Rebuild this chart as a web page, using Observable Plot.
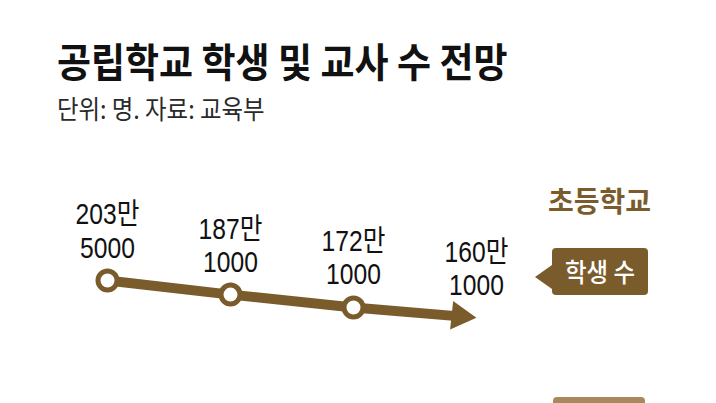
<!DOCTYPE html>
<html><head><meta charset="utf-8">
<script src="https://cdn.jsdelivr.net/npm/d3@7"></script>
<script src="https://cdn.jsdelivr.net/npm/@observablehq/plot@0.6"></script>
<style>
html,body{margin:0;padding:0;background:#fff;}
#wrap{position:relative;width:716px;height:403px;overflow:hidden;background:#fff;font-family:"Noto Sans CJK KR","Noto Sans",sans-serif;}
#head{position:relative;height:140px;}
.abs{position:absolute;white-space:nowrap;line-height:1;}
#title{left:57px;top:40px;font-size:40px;font-weight:700;color:#111;transform:scaleX(0.925);transform-origin:0 0;}
#sub{left:57px;top:95px;font-size:26px;font-weight:400;color:#2a2a2a;transform:scaleX(0.9);transform-origin:0 0;}
#school{left:548px;top:186px;font-size:28px;font-weight:700;color:#7a5c2c;}
.callout{position:absolute;border-radius:4px;}
#c1{left:552px;top:248px;width:96px;height:47px;background:#7a5c2c;}
#c1::before{content:"";position:absolute;left:-17px;top:17px;border-top:12px solid transparent;border-bottom:12px solid transparent;border-right:17px solid #7a5c2c;}
#c1 span{position:absolute;left:0;right:0;top:10px;text-align:center;color:#fff;font-size:26px;font-weight:500;line-height:1;transform:scaleX(0.9);}
#c2{left:553px;top:397px;width:92px;height:50px;background:#a8895a;}
#chart{position:absolute;left:0;top:140px;}
</style></head>
<body>
<div id="wrap">
  <div id="head">
    <div class="abs" id="title">공립학교 학생 및 교사 수 전망</div>
    <div class="abs" id="sub">단위: 명. 자료: 교육부</div>
  </div>
  <div class="abs" id="school">초등학교</div>
  <div class="callout" id="c1"><span>학생 수</span></div>
  <div class="callout" id="c2"></div>
  <div id="chart"></div>
</div>
<script>
// Data: projected public elementary school students (4 projection points)
const steps = [0, 1, 2, 3];
const students = [2035000, 1871000, 1721000, 1601000];

const brown = "#7a5c2c";
const data = steps.map((s, i) => ({step: s, value: students[i],
  label: `${Math.floor(students[i] / 10000)}만\n${students[i] % 10000}`}));
const nodes = data.slice(0, 3);
const last = data.slice(3);

const chart = Plot.plot({
  width: 716,
  height: 263,
  margin: 0,
  x: {domain: [0, 3], range: [107, 476], axis: null},
  y: {domain: [1601000, 2035000], range: [177.3, 140], axis: null},
  marks: [
    Plot.line(data, {x: "step", y: "value", stroke: brown, strokeWidth: 10,
      strokeLinejoin: "round", strokeLinecap: "butt", className: "trend"}),
    Plot.dot(last, {x: "step", y: "value", symbol: "triangle", r: 10.7, rotate: 96,
      fill: brown, stroke: "none", dx: -16.6, dy: -1.7}),
    Plot.dot(nodes, {x: "step", y: "value", r: 9.5, fill: "white", stroke: brown, strokeWidth: 5}),
    Plot.text(data, {x: "step", y: "value", text: "label", lineAnchor: "bottom", dy: -23,
      lineHeight: 1.14, fontSize: 29, fill: "#111",
      fontFamily: "'Liberation Sans', 'Noto Sans CJK KR', sans-serif", className: "vlabels"})
  ]
});
document.getElementById("chart").appendChild(chart);

// trim the shaft so it ends inside the arrow head
const path = chart.querySelector("g.trend path");
if (path) {
  const L = path.getTotalLength();
  path.setAttribute("stroke-dasharray", `${L - 14},${L + 20}`);
}
// condensed number labels
chart.querySelectorAll("g.vlabels text").forEach(t => {
  const tr = t.getAttribute("transform") || "";
  t.setAttribute("transform", tr + " scale(0.85,1)");
});
</script>
</body></html>
